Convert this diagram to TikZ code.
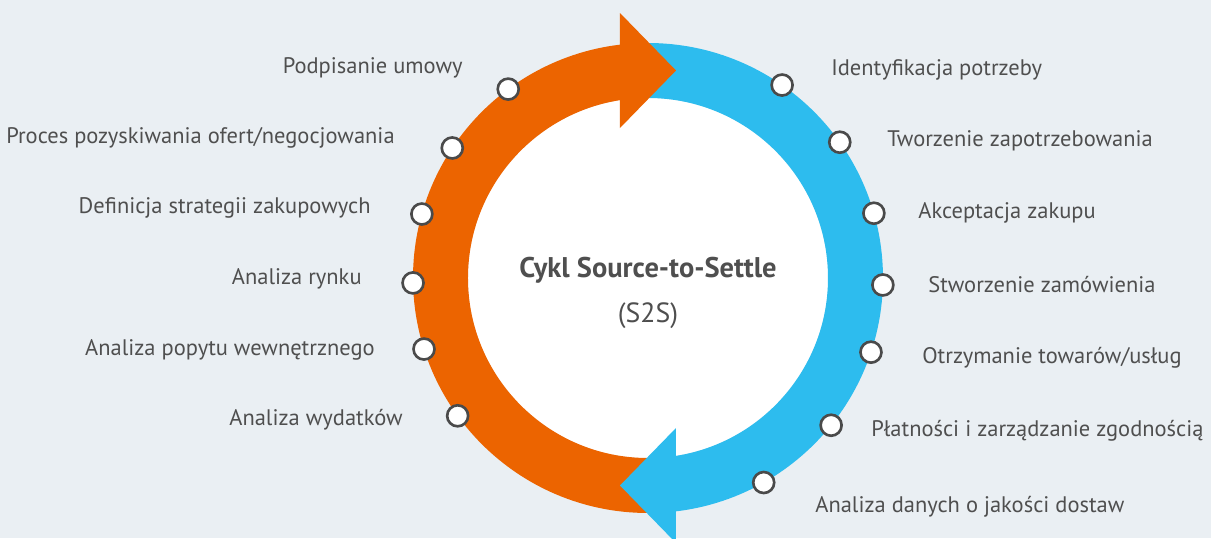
\documentclass[tikz,border=0pt]{standalone}
\usepackage{fontspec}
\setmainfont{PT Sans}
\definecolor{ringorange}{HTML}{EC6400}
\definecolor{ringblue}{HTML}{2DBCEE}
\definecolor{bgcol}{HTML}{EAEFF3}
\definecolor{txtcol}{HTML}{4F4F4F}
\definecolor{dotline}{HTML}{4A4A4A}
\begin{document}
\begin{tikzpicture}[x=0.02cm,y=0.02cm,
  dot/.style={circle,fill=white,draw=dotline,line width=1.5pt,minimum size=0.42cm,inner sep=0pt},
  lbl/.style={text=txtcol,font=\fontsize{12.8}{15}\selectfont,inner sep=0pt},
  band/.style={line width=1.1cm}]
\fill[bgcol] (-648,-260) rectangle (563,278);
\useasboundingbox (-648,-260) rectangle (563,278);
% ring
\fill[white] (0,0) circle[radius=180];
\draw[band,ringblue] (-90:207.5) arc[start angle=-90,end angle=90,radius=207.5];
\draw[band,ringorange] (90:207.5) arc[start angle=90,end angle=270,radius=207.5];
\fill[ringorange] (-28,265) -- (28,207.5) -- (-28,150) -- cycle;
\fill[ringblue] (28,-150) -- (-28,-207.5) -- (28,-265) -- cycle;
% centre
\node[text=txtcol,font=\fontsize{16.2}{19}\selectfont\bfseries,anchor=base,inner sep=0pt] (title) at (0,1) {Cykl Source-to-Settle};
\node[text=txtcol,font=\fontsize{15.8}{19}\selectfont,anchor=base,inner sep=0pt] (abbr) at (0,-44) {(S2S)};
% left side
\node[dot] (l1) at (126.5:235) {};
\node[dot] (l2) at (146.4:235) {};
\node[dot] (l3) at (164.2:235) {};
\node[dot] (l4) at (181.2:235) {};
\node[dot] (l5) at (197.6:235) {};
\node[dot] (l6) at (215.9:235) {};
\node[lbl,anchor=base east] (t1) at (-185,205) {Podpisanie umowy};
\node[lbl,anchor=base east] (t2) at (-253,135) {Proces pozyskiwania ofert/negocjowania};
\node[lbl,anchor=base east] (t3) at (-277,65) {Definicja strategii zakupowych};
\node[lbl,anchor=base east] (t4) at (-286,-6) {Analiza rynku};
\node[lbl,anchor=base east] (t5) at (-273,-77) {Analiza popytu wewnętrznego};
\node[lbl,anchor=base east] (t6) at (-245,-147) {Analiza wydatków};
% right side
\node[dot] (r1) at (55.2:235) {};
\node[dot] (r2) at (35.3:235) {};
\node[dot] (r3) at (16.0:235) {};
\node[dot] (r4) at (-1.7:235) {};
\node[dot] (r5) at (-18.4:235) {};
\node[dot] (r6) at (-38.8:235) {};
\node[dot] (r7) at (-60.5:235) {};
\node[lbl,anchor=base west] (s1) at (183,203) {Identyfikacja potrzeby};
\node[lbl,anchor=base west] (s2) at (239,132) {Tworzenie zapotrzebowania};
\node[lbl,anchor=base west] (s3) at (270,60) {Akceptacja zakupu};
\node[lbl,anchor=base west] (s4) at (280,-14) {Stworzenie zamówienia};
\node[lbl,anchor=base west] (s5) at (274,-85) {Otrzymanie towarów/usług};
\node[lbl,anchor=base west] (s6) at (223,-158) {Płatności i zarządzanie zgodnością};
\node[lbl,anchor=base west] (s7) at (167,-234) {Analiza danych o jakości dostaw};
\end{tikzpicture}
\end{document}
